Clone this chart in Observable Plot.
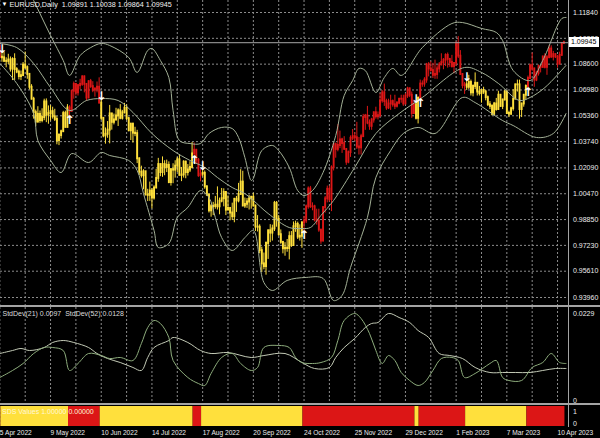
<!DOCTYPE html>
<html><head><meta charset="utf-8">
<script src="https://cdn.jsdelivr.net/npm/d3@7"></script>
<script src="https://cdn.jsdelivr.net/npm/@observablehq/plot@0.6"></script>
<style>
html,body{margin:0;padding:0;background:#000;}
#chart{position:relative;width:600px;height:438px;background:#000;overflow:hidden;font-family:"Liberation Sans",Arial,sans-serif;}
#chart svg{position:absolute;left:0;overflow:hidden;}
.ln{position:absolute;background:#a4a4a4;}
.bid{position:absolute;background:#fff;color:#000;font-size:7px;line-height:10px;height:10px;padding-left:2px;box-sizing:border-box;}
.sigt{position:absolute;color:#fff7d8;font-size:7px;line-height:8px;white-space:nowrap;}
</style></head><body><div id="chart"></div>
<script>
// ---------------- data ----------------
const symbolTitle = "EURUSD,Daily  1.09891 1.10038 1.09864 1.09945";
const stdTitle = "StdDev(21) 0.0097  StdDev(52) 0.0128";
const sigTitle = "SDS Values 1.00000 0.00000";
const prevClose = 1.0970;
const closes = [
1.0903,1.0900,1.0878,1.0877,1.0886,1.0829,1.0889,1.0826,1.0810,1.0782,
1.0788,1.0854,1.0838,1.0796,1.0715,1.0640,1.0556,1.0497,1.0545,1.0506,
1.0525,1.0623,1.0540,1.0550,1.0562,1.0530,1.0513,1.0380,1.0412,1.0436,
1.0550,1.0463,1.0585,1.0564,1.0690,1.0733,1.0680,1.0725,1.0733,1.0780,
1.0733,1.0647,1.0750,1.0719,1.0697,1.0704,1.0715,1.0615,1.0520,1.0410,
1.0420,1.0446,1.0548,1.0495,1.0510,1.0535,1.0567,1.0520,1.0555,1.0584,
1.0518,1.0442,1.0484,1.0427,1.0424,1.0266,1.0182,1.0160,1.0185,1.0039,
1.0037,1.0064,1.0020,1.0083,1.0143,1.0230,1.0180,1.0230,1.0212,1.0225,
1.0117,1.0198,1.0195,1.0220,1.0260,1.0162,1.0165,1.0245,1.0180,1.0196,
1.0212,1.0297,1.0320,1.0258,1.0160,1.0170,1.0175,1.0090,1.0037,0.9940,
0.9966,0.9967,0.9975,0.9965,1.0000,1.0016,1.0055,0.9944,0.9955,0.9926,
0.9903,1.0012,1.0002,1.0042,1.0120,0.9970,0.9980,0.9995,1.0015,1.0025,
0.9970,0.9838,0.9837,0.9690,0.9607,0.9590,0.9735,0.9815,0.9800,0.9826,
0.9987,0.9886,0.9790,0.9742,0.9702,0.9705,0.9703,0.9778,0.9722,0.9840,
0.9855,0.9775,0.9780,0.9863,0.9876,0.9965,1.0077,0.9965,0.9965,0.9883,
0.9875,0.9819,0.9750,0.9960,1.0015,1.0075,1.0010,1.0210,1.0355,1.0325,
1.0350,1.0385,1.0362,1.0325,1.0245,1.0305,1.0395,1.0405,1.0398,1.0340,
1.0335,1.0405,1.0525,1.0535,1.0490,1.0470,1.0510,1.0555,1.0530,1.0537,
1.0630,1.0680,1.0625,1.0585,1.0610,1.0625,1.0605,1.0595,1.0615,1.0640,
1.0640,1.0610,1.0660,1.0705,1.0665,1.0550,1.0605,1.0520,1.0645,1.0735,
1.0735,1.0760,1.0855,1.0830,1.0820,1.0790,1.0795,1.0830,1.0855,1.0870,
1.0885,1.0915,1.0890,1.0870,1.0845,1.0865,1.0990,1.0910,1.0795,1.0725,
1.0730,1.0715,1.0745,1.0680,1.0720,1.0740,1.0685,1.0675,1.0695,1.0685,
1.0650,1.0605,1.0595,1.0545,1.0610,1.0575,1.0665,1.0595,1.0635,1.0685,
1.0550,1.0545,1.0580,1.0640,1.0730,1.0730,1.0575,1.0610,1.0665,1.0720,
1.0770,1.0850,1.0830,1.0760,1.0800,1.0845,1.0840,1.0905,1.0840,1.0900,
1.0955,1.0905,1.0920,1.0905,1.0860,1.0915,1.09891,1.09945];
const highs = [
1.0993,1.0938,1.0935,1.0900,1.0922,1.0905,1.0900,1.0925,1.0838,1.0823,
1.0817,1.0870,1.0936,1.0849,1.0787,1.0731,1.0652,1.0572,1.0593,1.0566,
1.0580,1.0640,1.0642,1.0598,1.0600,1.0590,1.0577,1.0531,1.0424,1.0446,
1.0564,1.0565,1.0606,1.0599,1.0697,1.0748,1.0736,1.0733,1.0765,1.0787,
1.0786,1.0737,1.0755,1.0764,1.0750,1.0710,1.0748,1.0774,1.0643,1.0525,
1.0460,1.0500,1.0601,1.0550,1.0547,1.0583,1.0580,1.0606,1.0570,1.0614,
1.0605,1.0527,1.0487,1.0486,1.0464,1.0445,1.0272,1.0220,1.0198,1.0150,
1.0075,1.0120,1.0080,1.0097,1.0200,1.0269,1.0234,1.0278,1.0254,1.0258,
1.0247,1.0205,1.0235,1.0254,1.0275,1.0293,1.0212,1.0254,1.0252,1.0230,
1.0248,1.0368,1.0365,1.0325,1.0268,1.0201,1.0200,1.0190,1.0097,1.0047,
0.9980,0.9993,1.0030,1.0090,1.0020,1.0080,1.0078,1.0057,1.0033,0.9953,
0.9988,1.0018,1.0030,1.0112,1.0198,1.0188,1.0020,1.0017,1.0037,1.0030,
1.0050,0.9975,0.9910,0.9852,0.9712,0.9675,0.9745,0.9815,0.9853,0.9850,
0.9999,0.9998,0.9910,0.9820,0.9748,0.9740,0.9760,0.9808,0.9810,0.9870,
0.9875,0.9869,0.9852,0.9873,0.9905,0.9976,1.0090,1.0093,0.9990,0.9975,
0.9950,0.9950,0.9820,0.9965,1.0030,1.0095,1.0095,1.0222,1.0365,1.0365,
1.0480,1.0440,1.0395,1.0405,1.0325,1.0315,1.0410,1.0450,1.0430,1.0495,
1.0400,1.0420,1.0545,1.0545,1.0595,1.0510,1.0520,1.0560,1.0590,1.0560,
1.0675,1.0695,1.0735,1.0640,1.0640,1.0665,1.0635,1.0665,1.0625,1.0645,
1.0665,1.0665,1.0675,1.0715,1.0710,1.0685,1.0635,1.0620,1.0655,1.0760,
1.0755,1.0775,1.0865,1.0870,1.0875,1.0865,1.0885,1.0850,1.0870,1.0925,
1.0895,1.0925,1.0930,1.0890,1.0915,1.0870,1.1000,1.1033,1.0945,1.0800,
1.0745,1.0760,1.0790,1.0760,1.0730,1.0805,1.0740,1.0720,1.0700,1.0715,
1.0695,1.0660,1.0625,1.0605,1.0620,1.0645,1.0690,1.0665,1.0640,1.0695,
1.0695,1.0565,1.0590,1.0700,1.0735,1.0760,1.0760,1.0615,1.0670,1.0730,
1.0785,1.0860,1.0930,1.0835,1.0815,1.0855,1.0855,1.0910,1.0925,1.0915,
1.0975,1.0975,1.0940,1.0925,1.0915,1.0935,1.0995,1.10038];
const lows = [
1.0895,1.0872,1.0870,1.0837,1.0858,1.0810,1.0757,1.0758,1.0800,1.0761,
1.0757,1.0782,1.0826,1.0765,1.0698,1.0636,1.0515,1.0470,1.0490,1.0489,
1.0492,1.0505,1.0493,1.0483,1.0503,1.0515,1.0500,1.0354,1.0349,1.0390,
1.0432,1.0460,1.0461,1.0532,1.0560,1.0640,1.0660,1.0660,1.0699,1.0721,
1.0680,1.0627,1.0645,1.0708,1.0681,1.0653,1.0680,1.0613,1.0506,1.0398,
1.0358,1.0395,1.0360,1.0446,1.0479,1.0505,1.0469,1.0511,1.0509,1.0548,
1.0506,1.0436,1.0381,1.0365,1.0405,1.0236,1.0162,1.0145,1.0072,1.0035,
0.9998,0.9999,0.9952,1.0007,1.0078,1.0119,1.0154,1.0150,1.0160,1.0180,
1.0110,1.0095,1.0110,1.0145,1.0180,1.0160,1.0123,1.0145,1.0141,1.0158,
1.0180,1.0203,1.0283,1.0233,1.0150,1.0122,1.0152,1.0075,1.0035,0.9926,
0.9900,0.9910,0.9950,0.9945,0.9915,0.9990,0.9965,0.9910,0.9940,0.9877,
0.9880,0.9865,0.9930,0.9990,1.0040,0.9966,0.9955,0.9955,0.9945,0.9950,
0.9965,0.9810,0.9807,0.9670,0.9553,0.9570,0.9536,0.9635,0.9740,0.9750,
0.9810,0.9837,0.9780,0.9730,0.9670,0.9655,0.9680,0.9632,0.9710,0.9720,
0.9805,0.9760,0.9750,0.9705,0.9810,0.9860,0.9950,0.9955,0.9940,0.9870,
0.9850,0.9805,0.9730,0.9745,0.9925,0.9990,0.9995,0.9935,1.0190,1.0270,
1.0310,1.0330,1.0300,1.0325,1.0225,1.0235,1.0275,1.0380,1.0375,1.0325,
1.0290,1.0290,1.0400,1.0445,1.0480,1.0445,1.0445,1.0490,1.0515,1.0510,
1.0525,1.0615,1.0595,1.0570,1.0575,1.0570,1.0590,1.0575,1.0585,1.0605,
1.0615,1.0595,1.0605,1.0645,1.0650,1.0520,1.0545,1.0510,1.0485,1.0640,
1.0715,1.0715,1.0740,1.0780,1.0810,1.0770,1.0765,1.0765,1.0805,1.0850,
1.0825,1.0845,1.0835,1.0840,1.0835,1.0800,1.0845,1.0895,1.0790,1.0705,
1.0670,1.0695,1.0700,1.0660,1.0655,1.0700,1.0660,1.0660,1.0615,1.0670,
1.0630,1.0595,1.0575,1.0535,1.0535,1.0565,1.0575,1.0590,1.0575,1.0630,
1.0545,1.0525,1.0545,1.0565,1.0640,1.0685,1.0515,1.0525,1.0590,1.0635,
1.0710,1.0765,1.0815,1.0715,1.0750,1.0785,1.0805,1.0835,1.0830,1.0790,
1.0900,1.0895,1.0880,1.0895,1.0835,1.0855,1.0910,1.09864];

// indicator state runs: first and last bar of each run, and colours
const stateStarts = [0,1,33,48,92,96,144,197,199,221,250];
const stateEnds   = [0,32,47,91,95,143,196,198,220,249,267];
const stateColors = ["#dc1616","#ffe03c","#dc1616","#ffe03c","#dc1616","#ffe03c","#dc1616","#ffe03c","#dc1616","#ffe03c","#dc1616"];

// envelope lines (bar index, price)
const upperBars = [0,10,16,24,30,33,38,43,48,52,61,65,70,72,76,80,82,85,90,95,99,105,110,113,116,119,120,124,129,132,137,141,144,148,153,159,163,167,170,173,178,182,186,190,200,214,219,228,235,238,243,251,257,266,268];
const upperVals = [1.1636,1.1416,1.1259,1.1040,1.0883,1.0789,1.0914,1.0964,1.0990,1.0977,1.0902,1.0808,1.0946,1.0958,1.0883,1.0776,1.0569,1.0381,1.0362,1.0362,1.0425,1.0463,1.0456,1.0400,1.0274,1.0130,1.0143,1.0318,1.0350,1.0318,1.0212,1.0067,1.0036,1.0067,1.0180,1.0412,1.0663,1.0757,1.0833,1.0820,1.0682,1.0776,1.0833,1.0789,1.0964,1.1115,1.1121,1.1084,1.1059,1.1008,1.0820,1.0757,1.0883,1.1146,1.1153];
const middleBars = [0,8,16,24,33,41,48,56,63,72,82,90,97,103,110,116,120,127,137,143,147,152,158,168,178,189,200,220,228,236,246,251,258,268];
const middleVals = [1.0990,1.0964,1.0864,1.0713,1.0569,1.0632,1.0644,1.0632,1.0557,1.0425,1.0318,1.0256,1.0212,1.0149,1.0086,1.0048,1.0005,0.9923,0.9835,0.9829,0.9835,0.9911,1.0005,1.0212,1.0425,1.0550,1.0651,1.0839,1.0808,1.0739,1.0632,1.0651,1.0713,1.0852];
const lowerBars = [0,8,16,18,24,29,34,42,48,52,61,65,68,73,75,80,84,89,95,99,102,105,110,116,120,125,129,136,145,153,158,162,166,174,178,185,191,198,206,219,225,238,243,254,262,268];
const lowerVals = [1.0864,1.0739,1.0550,1.0381,1.0256,1.0180,1.0299,1.0243,1.0306,1.0287,1.0256,1.0193,1.0048,0.9816,0.9710,0.9735,0.9898,0.9961,1.0067,1.0023,0.9898,0.9772,0.9691,0.9772,0.9816,0.9490,0.9440,0.9503,0.9522,0.9516,0.9377,0.9409,0.9584,0.9898,1.0149,1.0318,1.0425,1.0463,1.0425,1.0651,1.0619,1.0506,1.0475,1.0400,1.0425,1.0550];

// StdDev lines read from the sub-window (bar index, value)
const sd21Bars = [0,6,11,16,21,25,30,33,37,42,48,52,57,63,67,70,73,76,80,82,89,94,97,100,105,110,114,119,122,125,132,137,140,143,148,152,157,160,163,168,171,175,178,181,184,187,190,194,198,201,205,209,214,217,220,225,232,235,238,241,247,252,257,261,265,268];
const sd21Vals = [0.00605,0.00790,0.00974,0.01237,0.01395,0.01395,0.01316,0.00790,0.00974,0.01237,0.01184,0.01105,0.01132,0.01053,0.01500,0.01921,0.02106,0.02027,0.01658,0.01053,0.00605,0.00447,0.00395,0.00711,0.01132,0.01237,0.00974,0.00790,0.00869,0.01395,0.01448,0.01395,0.01132,0.01000,0.00974,0.01000,0.01132,0.01579,0.02106,0.02290,0.02158,0.01763,0.01316,0.00974,0.01184,0.01053,0.00737,0.00526,0.00395,0.00474,0.00790,0.01105,0.01132,0.01053,0.00605,0.00711,0.00974,0.01053,0.00605,0.00526,0.00526,0.00869,0.01000,0.01237,0.01000,0.00974];
const sd52Bars = [0,6,10,14,21,25,30,35,42,46,51,57,63,67,70,73,80,82,89,95,100,108,119,125,135,143,149,156,159,163,168,173,176,179,184,189,194,198,203,208,213,219,225,232,238,244,251,257,263,268];
const sd52Vals = [0.01237,0.01316,0.01369,0.01316,0.01395,0.01527,0.01579,0.01527,0.01395,0.01237,0.01105,0.01000,0.00869,0.00790,0.01132,0.01395,0.01579,0.01658,0.01527,0.01316,0.01237,0.01263,0.01132,0.01184,0.01237,0.01000,0.00842,0.00869,0.01132,0.01395,0.01632,0.01921,0.02027,0.02053,0.02290,0.02185,0.02053,0.01842,0.01658,0.01237,0.01184,0.01105,0.00869,0.00737,0.00737,0.00737,0.00737,0.00790,0.00842,0.00842];

// axes
const priceTicks = [1.1184,1.1022,1.0860,1.0698,1.0536,1.0374,1.0209,1.0047,0.9885,0.9723,0.9561,0.9396];
const stdTicks = [0, 0.0229];
const sigTicks = [0, 1];
const dateLabelBars = [0,24,48,72,96,120,144,168,192,216,240,264];
const dateLabels = ["5 Apr 2022","9 May 2022","10 Jun 2022","14 Jul 2022","17 Aug 2022","20 Sep 2022","24 Oct 2022","25 Nov 2022","29 Dec 2022","1 Feb 2023","7 Mar 2023","10 Apr 2023"];
const gridBars = [0,12,24,36,48,60,72,84,96,108,120,132,144,156,168,180,192,204,216,228,240,252,264];

// ---------------- build ----------------
const N = closes.length;
const runs = stateStarts.map((s, k) => ({start: s, end: stateEnds[k], color: stateColors[k], up: k % 2 === 0}));
const bars = closes.map((c, i) => ({i, open: i ? closes[i-1] : prevClose, close: c, high: highs[i], low: lows[i]}));
const upArrows = runs.slice(1).filter(r => r.up).map(r => bars[r.start]);
const downArrows = runs.slice(1).filter(r => !r.up).map(r => bars[r.start]);
const pts = (b, v) => b.map((x, k) => ({i: x, v: v[k]}));
const lastClose = closes[N-1];
const labelMap = new Map(dateLabelBars.map((b, k) => [b, dateLabels[k]]));

const FONT = "Liberation Sans, Arial, sans-serif";
const xDomain = [0.3077, 269.19];
const base = {width: 600, marginLeft: 0, marginRight: 32,
  style: {background: "transparent", color: "#ececec", fontFamily: FONT, fontSize: "7px", overflow: "hidden"}};
const gridStyle = {stroke: "#8c8c8c", strokeDasharray: "2,2", strokeWidth: 1};
const bandStyle = {x: "i", y: "v", stroke: "#a3b096", strokeWidth: 1, curve: "catmull-rom"};

const chart = document.getElementById("chart");
function place(svg, top) { svg.style.top = top + "px"; chart.appendChild(svg); }
function line(cls, l, t, w, h) { const d = document.createElement("div"); d.className = cls; Object.assign(d.style, {left: l+"px", top: t+"px", width: w+"px", height: h+"px"}); chart.appendChild(d); return d; }

// main price panel: one pair of marks per colour state
const candleMarks = runs.flatMap(r => {
  const seg = bars.slice(r.start, r.end + 1);
  return [
    Plot.ruleX(seg, {x: "i", y1: "low", y2: "high", stroke: r.color, strokeWidth: 1}),
    Plot.ruleX(seg, {x: "i", y1: "open", y2: "close", stroke: r.color, strokeWidth: 1.9, strokeLinecap: "square"})
  ];
});
const main = Plot.plot({...base, height: 305, marginTop: 0, marginBottom: 0,
  x: {domain: xDomain, axis: null},
  y: {domain: [0.93459, 1.12593], label: null},
  marks: [
    Plot.ruleX(gridBars, gridStyle),
    Plot.ruleY(priceTicks, gridStyle),
    ...candleMarks,
    Plot.line(pts(upperBars, upperVals), bandStyle),
    Plot.line(pts(middleBars, middleVals), bandStyle),
    Plot.line(pts(lowerBars, lowerVals), bandStyle),
    Plot.ruleY([lastClose], {stroke: "#a8a8a8", strokeWidth: 1}),
    Plot.text(downArrows, {x: "i", y: "high", text: () => "↓", lineAnchor: "bottom", dy: 1, fill: "#ffffff", fontSize: 12, fontWeight: "bold", fontFamily: "DejaVu Sans"}),
    Plot.text(upArrows, {x: "i", y: "low", text: () => "↑", lineAnchor: "top", dy: -1, fill: "#ffffff", fontSize: 12, fontWeight: "bold", fontFamily: "DejaVu Sans"}),
    Plot.axisY(priceTicks, {anchor: "right", label: null, tickSize: 0, tickPadding: 4.5, tickFormat: d3.format(".5f"), fontSize: 7}),
    Plot.text(["▼"], {frameAnchor: "top-left", dx: 1, dy: 1, lineAnchor: "top", fill: "#ffffff", fontSize: 6}),
    Plot.text([symbolTitle], {frameAnchor: "top-left", dx: 9, dy: 1, lineAnchor: "top", fill: "#f2f2f2", fontSize: 7.2})
  ]});
place(main, 0);

// StdDev sub-window
const std = Plot.plot({...base, height: 96, marginTop: 0, marginBottom: 0,
  x: {domain: xDomain, axis: null},
  y: {domain: [-0.00079, 0.024479], label: null},
  marks: [
    Plot.ruleX(gridBars, gridStyle),
    Plot.line(pts(sd52Bars, sd52Vals), {x: "i", y: "v", stroke: "#c3cab6", strokeWidth: 1, curve: "catmull-rom"}),
    Plot.line(pts(sd21Bars, sd21Vals), {x: "i", y: "v", stroke: "#8dac7c", strokeWidth: 1, curve: "catmull-rom"}),
    Plot.axisY(stdTicks, {anchor: "right", label: null, tickSize: 0, tickPadding: 4.5, tickFormat: d => d === 0 ? "0" : d.toFixed(4), fontSize: 7}),
    Plot.text([stdTitle], {frameAnchor: "top-left", dx: 2, dy: 3.5, lineAnchor: "top", fill: "#dcdcdc", fontSize: 7})
  ]});
place(std, 307);

// signal histogram sub-window with time axis: one rect mark per state run
const runMarks = runs.map(r => Plot.rect([r], {x1: d => d.start - 0.5, x2: d => d.end + 0.5, y1: () => -0.25, y2: () => 1.4167, fill: r.color}));
const sig = Plot.plot({...base, height: 33, marginTop: 1, marginBottom: 12,
  x: {domain: xDomain, label: null},
  y: {domain: [-0.25, 1.4167], label: null},
  marks: [
    Plot.ruleX(gridBars, gridStyle),
    ...runMarks,
    Plot.axisY(sigTicks, {anchor: "right", label: null, tickSize: 0, tickPadding: 4.5, fontSize: 7}),
    Plot.axisX(dateLabelBars, {anchor: "bottom", label: null, tickSize: 0, tickPadding: 3.5, textAnchor: "start", tickFormat: d => labelMap.get(d), fontSize: 6.6})
  ]});
place(sig, 405);

// window chrome: separators, price-scale border, bid label, indicator caption
line("ln", 0, 305, 600, 2);
line("ln", 0, 403, 600, 2);
line("ln", 568, 0, 1, 427);
const bidY = main.scale("y").apply(lastClose);
const bid = line("bid", 569, Math.round(bidY) - 5, 30, 10);
bid.textContent = d3.format(".5f")(lastClose);
const cap = document.createElement("div");
cap.className = "sigt"; cap.style.left = "2px"; cap.style.top = "408px"; cap.textContent = sigTitle;
chart.appendChild(cap);
</script></body></html>
